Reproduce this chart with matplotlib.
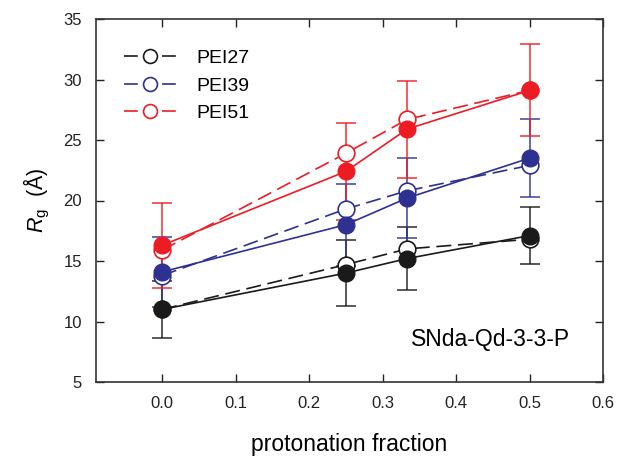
import numpy as np
import matplotlib
matplotlib.use('Agg')
import matplotlib.pyplot as plt
from matplotlib.lines import Line2D

plt.rcParams['font.family'] = ['Liberation Sans', 'DejaVu Sans']
plt.rcParams['mathtext.fontset'] = 'custom'
plt.rcParams['mathtext.rm'] = 'Liberation Sans'
plt.rcParams['mathtext.it'] = 'Liberation Sans:italic'

# Datos
fraccion = [0.0, 0.25, 1 / 3, 0.5]

# Serie abierta (linea discontinua)
pei27_open = [11.0, 14.7, 16.0, 16.8]
pei39_open = [13.8, 19.3, 20.8, 22.9]
pei51_open = [15.9, 23.9, 26.7, 29.1]

# Serie llena (linea continua) con barras de error
pei27_fill = [11.0, 14.0, 15.2, 17.1]
pei39_fill = [14.1, 18.0, 20.2, 23.5]
pei51_fill = [16.3, 22.4, 25.9, 29.1]
pei27_err = [2.35, 2.7, 2.6, 2.35]
pei39_err = [2.9, 3.4, 3.3, 3.2]
pei51_err = [3.5, 4.0, 4.0, 3.8]

etiquetas = ['PEI27', 'PEI39', 'PEI51']
colores = ['#1a1a1a', '#2e3192', '#ed1c24']

fig = plt.figure(figsize=(6.19, 4.57), dpi=100)
ax = fig.add_axes([96 / 619, 1 - 382 / 457, (603 - 96) / 619, (382 - 19) / 457])

abiertas = [pei27_open, pei39_open, pei51_open]
llenas = [pei27_fill, pei39_fill, pei51_fill]
errores = [pei27_err, pei39_err, pei51_err]

for k in range(3):
    c = colores[k]
    ax.errorbar(fraccion, llenas[k], yerr=errores[k], color=c, ecolor=c,
                elinewidth=1.2, capsize=7, capthick=1.2, linestyle='none',
                alpha=0.85, zorder=2)
    ax.plot(fraccion, abiertas[k], color=c, linewidth=1.2, dashes=(9, 4),
            marker='o', markersize=12, markerfacecolor='white',
            markeredgecolor=c, markeredgewidth=1.2, zorder=3)
    ax.plot(fraccion, llenas[k], '-', color=c, linewidth=1.2, marker='o',
            markersize=12, markerfacecolor=c, markeredgecolor=c, zorder=4)

ax.set_xlim(-0.09, 0.6)
ax.set_ylim(5, 35)
ax.set_xticks(np.arange(0, 0.61, 0.1))
ax.set_yticks(np.arange(5, 36, 5))
ax.set_xticklabels([f'{v:.1f}' for v in np.arange(0, 0.61, 0.1)])
ax.tick_params(direction='in', top=True, right=True, length=6, width=1,
               labelsize=12, pad=10, colors='#222222')
for s in ax.spines.values():
    s.set_linewidth(1.2)
    s.set_color('#333333')

ax.set_xlabel('protonation fraction', fontsize=16.5, labelpad=16)
ax.set_ylabel(r'$R_{\mathrm{g}}$  (Å)', fontsize=15.5, labelpad=8)

ax.text(0.935, 0.116, 'SNda-Qd-3-3-P', fontsize=16.5, ha='right',
        va='center', transform=ax.transAxes)

# Leyenda: segmento - circulo - segmento
handles = [Line2D([], [], color=c, linewidth=1.2, linestyle=(0, (8.3, 14.5)),
                  marker='o', markersize=10, markerfacecolor='white',
                  markeredgecolor=c, markeredgewidth=1.2) for c in colores]
ax.legend(handles, etiquetas, loc='upper left', bbox_to_anchor=(0.02, 0.964),
          frameon=False, fontsize=14, handlelength=2.67, handletextpad=1.05,
          labelspacing=0.5)

fig.savefig('out.png', dpi=100)
